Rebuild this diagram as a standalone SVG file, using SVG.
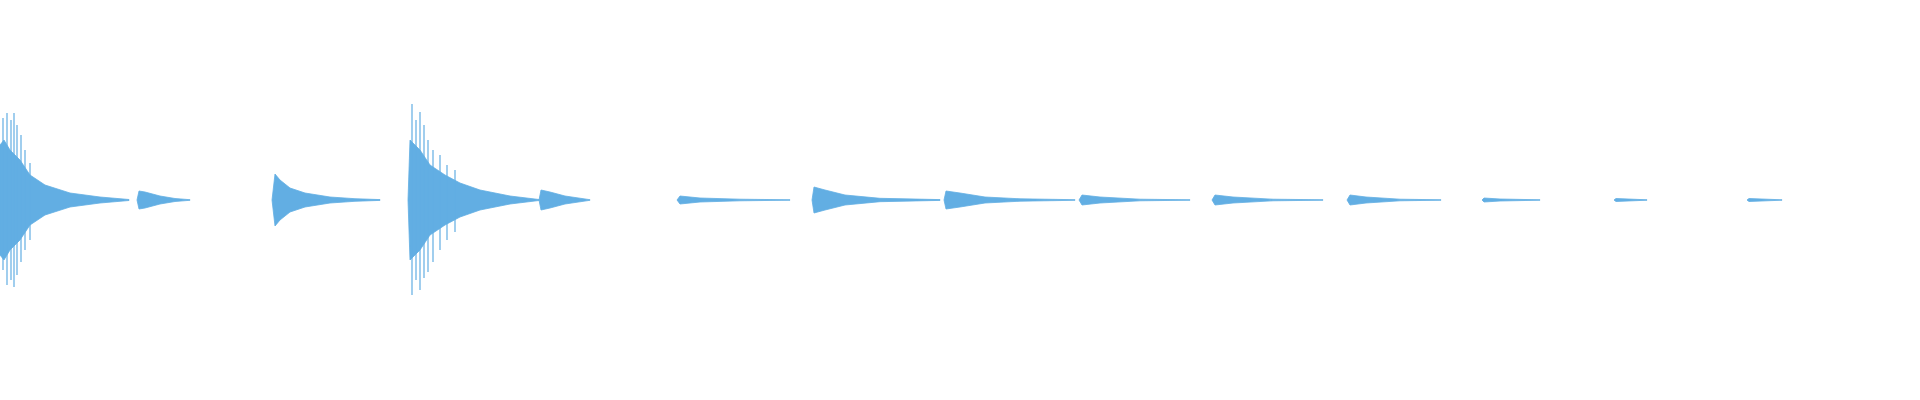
<svg xmlns="http://www.w3.org/2000/svg" width="1920" height="400" viewBox="0 0 1920 400">
<style>.w{fill:#62aee3;stroke:#62aee3;stroke-width:0.8}.s{stroke:#62aee3;stroke-width:1.2}.c{stroke:#62aee3;stroke-width:1.5}</style>
<rect width="1920" height="400" fill="#fff"/>
<g id="burst1">
<path class="w" d="M0,200 L0,145 4,140 10,150 20,160 30,175 45,185 70,193 100,197 129,199.5 129,200.5 100,203 70,207 45,215 30,225 20,240 10,250 4,260 0,255Z"/>
<g class="s"><line x1="3" y1="118" x2="3" y2="270"/><line x1="7" y1="113" x2="7" y2="285"/><line x1="11" y1="120" x2="11" y2="280"/><line x1="14" y1="113" x2="14" y2="287"/><line x1="17" y1="125" x2="17" y2="275"/><line x1="21" y1="135" x2="21" y2="262"/><line x1="25" y1="150" x2="25" y2="250"/><line x1="30" y1="163" x2="30" y2="240"/></g>
</g>
<g id="burst2"><path class="w" d="M137,200 L139,191 145,192 160,196 175,198.5 190,199.7 190,200.3 175,201.5 160,204 145,208 139,209Z"/></g>
<g id="burst3"><path class="w" d="M272,200 L275,174 280,180 290,188 305,193 330,197 355,198.7 380,199.6 380,200.4 355,201.3 330,203 305,207 290,212 280,220 275,226Z"/></g>
<g id="burst4">
<path class="w" d="M408,200 L410,140 420,150 430,165 445,175 460,183 480,190 510,196 539,199.5 539,200.5 510,204 480,210 460,217 445,225 430,235 420,250 410,260Z"/>
<g class="s"><line x1="412" y1="104" x2="412" y2="295"/><line x1="416" y1="120" x2="416" y2="280"/><line x1="420" y1="112" x2="420" y2="290"/><line x1="424" y1="125" x2="424" y2="278"/><line x1="428" y1="140" x2="428" y2="272"/><line x1="433" y1="150" x2="433" y2="262"/><line x1="440" y1="155" x2="440" y2="250"/><line x1="447" y1="165" x2="447" y2="240"/><line x1="455" y1="170" x2="455" y2="232"/></g>
</g>
<g id="burst5"><path class="w" d="M539,200 L541,190 550,192 565,196 590,199.7 590,200.3 565,204 550,208 541,210Z"/></g>
<g id="burst6"><path class="w" d="M677,200 L680,196 700,198 740,199.2 790,199.8 790,200.2 740,200.8 700,202 680,204Z"/></g>
<g id="burst7"><path class="w" d="M812,200 L814,187 825,190 845,195 880,198.3 940,199.6 940,200.4 880,201.7 845,205 825,210 814,213Z"/></g>
<g id="burst8"><path class="w" d="M944,200 L946,191 960,193 985,197 1020,198.8 1075,199.7 1075,200.3 1020,201.2 985,203 960,207 946,209Z"/></g>
<g id="burst9"><path class="w" d="M1079,200 L1082,195 1100,197 1140,199.2 1190,199.8 1190,200.2 1140,200.8 1100,203 1082,205Z"/></g>
<g id="burst10"><path class="w" d="M1212,200 L1215,195 1233,197 1273,199.2 1323,199.8 1323,200.2 1273,200.8 1233,203 1215,205Z"/></g>
<g id="burst11"><path class="w" d="M1347,200 L1350,195 1366,197 1400,199.2 1441,199.8 1441,200.2 1400,200.8 1366,203 1350,205Z"/></g>
<g id="burst12"><path class="w" d="M1482,200 L1484,198 1500,199 1540,199.8 1540,200.2 1500,201 1484,202Z"/></g>
<g id="burst13"><path class="w" d="M1614,200 L1616,198.5 1647,199.8 1647,200.2 1616,201.5Z"/></g>
<g id="burst14"><path class="w" d="M1747,200 L1749,198.5 1782,199.8 1782,200.2 1749,201.5Z"/></g>
</svg>
